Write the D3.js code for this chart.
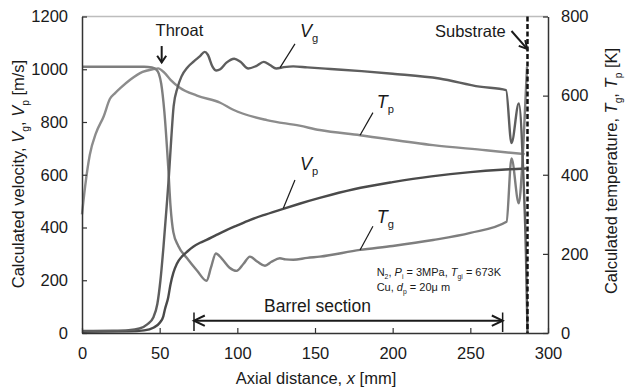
<!DOCTYPE html>
<meta charset="utf-8">
<script src="https://d3js.org/d3.v7.min.js"></script>
<style>
  body { margin: 0; background: #fff; }
  text { font-family: "Liberation Sans", Arial, sans-serif; fill: #1a1a1a; }
</style>
<svg id="chart" width="625" height="391"></svg>
<script>

// axial distance [mm] vs value
var vgData = [[0,8],[20,9],[30,11],[37,17],[42,33],[46,60],[48.5,110],[50.5,200],[52.5,330],[54.5,480],[56,600],[57.5,740],[59,860],[61.5,930],[64,972],[68,1008],[72,1030],[76,1050],[79,1066],[81,1055],[84,1010],[86.5,995],[89,1000],[93,1025],[98,1040],[102,1028],[107,1003],[112,1012],[117,1028],[121,1016],[125,1003],[130,1008],[136,1011],[145,1007],[160,1001],[180,993],[200,983],[230,965],[256,934],[273,921],[276.5,720],[281.2,870],[284,620],[285.8,300],[286.8,0]];
var vpData = [[0,5],[30,6],[40,10],[45.9,20],[50.2,40],[52.3,62],[53.4,90],[55.5,135],[57,185],[58.8,228],[61,262],[64.2,289],[68,310],[71.6,327],[76,342],[80.2,353],[86,370],[93,390],[100,408],[108,428],[118,449],[129.5,471],[140,490],[153,512],[175,545],[200,572],[225,594],[250,610],[270,619],[286,624]];
// temperatures [K] (right axis)
var tgData = [[0,673],[40,673],[45,671],[48,665],[49.5,655],[51,630],[53,560],[55.5,420],[57,320],[58.8,255],[62,220],[67.4,190],[74,158],[80.2,132],[83,165],[86.2,201],[90,188],[95,165],[99.5,157],[104,175],[108.1,193],[113,180],[117.8,170],[122,180],[127.4,189],[131,186],[136,185],[145,190],[153,193],[178.9,210],[200,220],[226,235],[250,253],[273.3,281],[276.5,441],[281.2,328],[283.5,430],[285.5,590],[286.5,673]];
var tpData = [[0,300],[2,370],[5,450],[9,505],[14,548],[18,592],[21,605],[25,620],[31,640],[39,660],[46,667],[49,669],[53,658],[57,640],[63,620],[74,600],[89,582],[97,565],[119,538],[140,524],[153,513],[179,500],[226,475],[260,462],[285,452]];

var xTicks = [0,50,100,150,200,250,300];
var yTicksLeft = [0,200,400,600,800,1000,1200];
var yTicksRight = [0,200,400,600,800];

var substrateX = 286.8;
var throatX = 51.3;
var barrelStart = 72.1, barrelEnd = 270.8;

var svg = d3.select("svg");
var x = d3.scaleLinear().domain([0,300]).range([82,548]);
var yL = d3.scaleLinear().domain([0,1200]).range([333,16.5]);
var yR = d3.scaleLinear().domain([0,800]).range([333,16.5]);

// rich text helper: parts = [text, flags] ; flags "i" italic, "s" subscript
function rich(sel, parts, fs) {
  var shift = 0;
  parts.forEach(function (p) {
    var f = p[1] || "";
    var sub = f.indexOf("s") >= 0;
    var t = sel.append("tspan").text(p[0]);
    var target = sub ? fs * 0.28 : 0;
    if (target !== shift) { t.attr("dy", target - shift); shift = target; }
    t.attr("font-size", sub ? fs * 0.62 : fs);
    if (f.indexOf("i") >= 0) t.attr("font-style", "italic");
  });
  return sel;
}

// top frame
svg.append("line")
  .attr("x1", x(0)).attr("x2", x(300)).attr("y1", yL(1200)).attr("y2", yL(1200))
  .attr("stroke", "#bdbdbd").attr("stroke-width", 1.5);

// curves
var lineL = d3.line().x(function (d) { return x(d[0]) }).y(function (d) { return yL(d[1]) }).curve(d3.curveMonotoneX);
var lineR = d3.line().x(function (d) { return x(d[0]) }).y(function (d) { return yR(d[1]) }).curve(d3.curveMonotoneX);

svg.append("path").datum(tpData).attr("d", lineR)
  .attr("fill", "none").attr("stroke", "#8c8c8c").attr("stroke-width", 2.4);
svg.append("path").datum(tgData).attr("d", lineR)
  .attr("fill", "none").attr("stroke", "#7e7e7e").attr("stroke-width", 2.4);
svg.append("path").datum(vpData).attr("d", lineL)
  .attr("fill", "none").attr("stroke", "#4a4a4a").attr("stroke-width", 2.4);
svg.append("path").datum(vgData).attr("d", lineL)
  .attr("fill", "none").attr("stroke", "#5e5e5e").attr("stroke-width", 2.4);

// substrate dashed line
svg.append("line")
  .attr("x1", x(substrateX)).attr("x2", x(substrateX))
  .attr("y1", yL(1200)).attr("y2", yL(0))
  .attr("stroke", "#111").attr("stroke-width", 2.5).attr("stroke-dasharray", "5,2.5");

// axes
var fmt = d3.format("d");
var axL = svg.append("g").attr("transform", "translate(" + x(0) + ",0)")
  .call(d3.axisLeft(yL).tickValues(yTicksLeft).tickFormat(fmt).tickSizeInner(-5).tickSizeOuter(0).tickPadding(14));
var axB = svg.append("g").attr("transform", "translate(0," + yL(0) + ")")
  .call(d3.axisBottom(x).tickValues(xTicks).tickFormat(fmt).tickSizeInner(-5).tickSizeOuter(0).tickPadding(14));
var axR = svg.append("g").attr("transform", "translate(" + x(300) + ",0)")
  .call(d3.axisRight(yR).tickValues(yTicksRight).tickFormat(fmt).tickSizeInner(-5).tickSizeOuter(0).tickPadding(13));

[axL, axB, axR].forEach(function (a) {
  a.selectAll("path").attr("stroke", "#333").attr("stroke-width", 1.5);
  a.selectAll("line").attr("stroke", "#333").attr("stroke-width", 1.2);
  a.selectAll("text").attr("font-size", 16.5).attr("fill", "#1a1a1a")
    .attr("font-family", "Liberation Sans, Arial, sans-serif");
});

// axis titles
rich(svg.append("text").attr("x", 316).attr("y", 384).attr("text-anchor", "middle"),
  [["Axial distance, "], ["x", "i"], [" [mm]"]], 16.5);

rich(svg.append("text").attr("transform", "translate(24,174) rotate(-90)").attr("text-anchor", "middle"),
  [["Calculated velocity, "], ["V", "i"], ["g", "s"], [", "], ["V", "i"], ["p", "s"], [" [m/s]"]], 16.5);

rich(svg.append("text").attr("transform", "translate(617,171) rotate(-90)").attr("text-anchor", "middle"),
  [["Calculated temperature, "], ["T", "i"], ["g", "s"], [", "], ["T", "i"], ["p", "s"], [" [K]"]], 16.5);

// arrow helper
function head(tx, ty, ang, len, spread) {
  var a1 = ang + Math.PI - spread, a2 = ang + Math.PI + spread;
  return "M" + (tx + len * Math.cos(a1)) + "," + (ty + len * Math.sin(a1)) +
    "L" + tx + "," + ty +
    "L" + (tx + len * Math.cos(a2)) + "," + (ty + len * Math.sin(a2));
}
var ann = svg.append("g").attr("fill", "none").attr("stroke", "#1a1a1a").attr("stroke-width", 2);

// Throat
svg.append("text").attr("x", x(62.7)).attr("y", yL(1126)).attr("text-anchor", "middle")
  .attr("font-size", 16.5).text("Throat");
ann.append("path").attr("d", "M" + x(throatX) + "," + yL(1088) + "L" + x(throatX) + "," + yL(1026));
ann.append("path").attr("d", head(x(throatX), yL(1026), Math.PI / 2, 8, 0.6));

// Substrate
svg.append("text").attr("x", x(250)).attr("y", yL(1124)).attr("text-anchor", "middle")
  .attr("font-size", 16.5).text("Substrate");
var s0 = [x(276.5), yL(1145)], s1 = [x(286.6), yL(1077)];
ann.append("path").attr("d", "M" + s0 + "L" + s1);
ann.append("path").attr("d", head(s1[0], s1[1], Math.atan2(s1[1] - s0[1], s1[0] - s0[0]), 9, 0.5));

// Barrel section
svg.append("text").attr("x", x(151.6)).attr("y", yL(81)).attr("text-anchor", "middle")
  .attr("font-size", 17.5).text("Barrel section");
var by = yL(46.6);
ann.append("path").attr("d", "M" + x(barrelStart) + "," + by + "L" + x(barrelEnd) + "," + by);
ann.append("path").attr("d", head(x(barrelStart), by, Math.PI, 12, 0.45));
ann.append("path").attr("d", head(x(barrelEnd), by, 0, 12, 0.45));
ann.append("path").attr("stroke-width", 1.5)
  .attr("d", "M" + x(barrelStart) + "," + yL(78) + "L" + x(barrelStart) + "," + yL(8) +
    "M" + x(barrelEnd) + "," + yL(78) + "L" + x(barrelEnd) + "," + yL(4));

// curve labels with leaders
var leaders = svg.append("g").attr("stroke", "#1a1a1a").attr("stroke-width", 1.2);
rich(svg.append("text").attr("x", x(140.3)).attr("y", yL(1122)), [["V", "i"], ["g", "s"]], 18);
leaders.append("line").attr("x1", x(137.1)).attr("y1", yL(1096)).attr("x2", x(127.5)).attr("y2", yL(1006));
rich(svg.append("text").attr("x", x(140.3)).attr("y", yL(618)), [["V", "i"], ["p", "s"]], 18);
leaders.append("line").attr("x1", x(137.1)).attr("y1", yL(580)).attr("x2", x(129.6)).attr("y2", yL(473));
rich(svg.append("text").attr("x", x(189.7)).attr("y", yR(568)), [["T", "i"], ["p", "s"]], 18);
leaders.append("line").attr("x1", x(187.3)).attr("y1", yR(557)).attr("x2", x(179)).attr("y2", yR(500));
rich(svg.append("text").attr("x", x(189.7)).attr("y", yR(278)), [["T", "i"], ["g", "s"]], 18);
leaders.append("line").attr("x1", x(187.3)).attr("y1", yR(270)).attr("x2", x(179)).attr("y2", yR(210));

// condition note
rich(svg.append("text").attr("x", x(189.7)).attr("y", yL(216)),
  [["N"], ["2", "s"], [", "], ["P", "i"], ["i", "s"], [" = 3MPa,  "], ["T", "i"], ["gi", "s"], [" = 673K"]], 11);
rich(svg.append("text").attr("x", x(189.7)).attr("y", yL(161)),
  [["Cu,  "], ["d", "i"], ["p", "s"], [" = 20\u03bc m"]], 11);

</script>
